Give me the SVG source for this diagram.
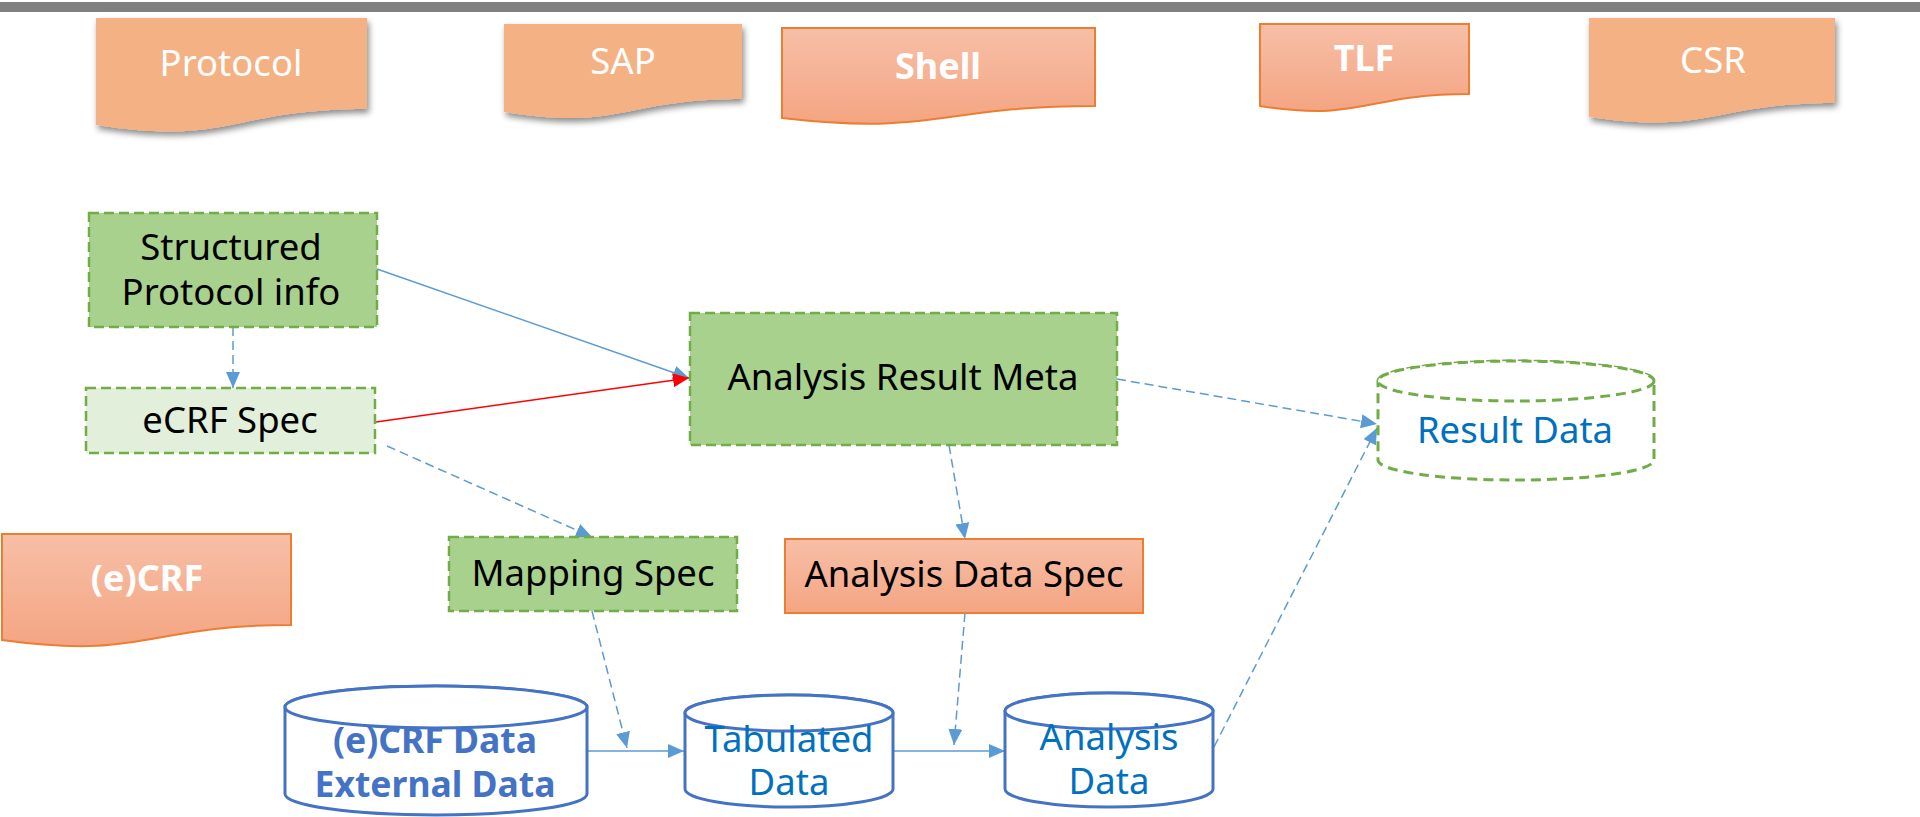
<svg xmlns="http://www.w3.org/2000/svg" width="1920" height="817" viewBox="0 0 1920 817">
<style>
text{font-family:"Noto Sans","Open Sans","DejaVu Sans",sans-serif;text-anchor:middle}
.doc{fill:#F4B183;filter:url(#sh)}
.gdoc{fill:url(#og);stroke:#ED7D31;stroke-width:2}
.wt{fill:#fff;font-size:36.5px}
.wb{fill:#fff;font-size:36px;font-weight:bold}
.gbox{fill:#A9D18E;stroke:#70AD47;stroke-width:2.5;stroke-dasharray:10 5}
.lbox{fill:#E2EFDA;stroke:#70AD47;stroke-width:2.5;stroke-dasharray:10 5}
.bt{fill:#000;font-size:36.5px}
.cyl{fill:#fff;stroke:#4472C4;stroke-width:3}
.rcyl{fill:#fff;stroke:#70AD47;stroke-width:3;stroke-dasharray:10 6}
.ct{fill:#0070C0;font-size:36.5px}
.cb{fill:#4472C4;font-size:35.5px;font-weight:bold}
.c{fill:none;stroke:#5B9BD5;stroke-width:1.5}
.d{stroke-dasharray:9 5}
</style>
<defs>
<linearGradient id="og" x1="0" y1="0" x2="0" y2="1">
<stop offset="0" stop-color="#F7BFA7"/>
<stop offset="1" stop-color="#F4A582"/>
</linearGradient>
<filter id="sh" x="-10%" y="-10%" width="130%" height="140%">
<feDropShadow dx="2" dy="4" stdDeviation="3" flood-color="#000" flood-opacity="0.45"/>
</filter>
<marker id="ab" markerUnits="userSpaceOnUse" markerWidth="18" markerHeight="14" refX="16" refY="7" orient="auto">
<path d="M0,0 L16,7 L0,14 Z" fill="#5B9BD5"/>
</marker>
<marker id="ar" markerUnits="userSpaceOnUse" markerWidth="18" markerHeight="14" refX="16" refY="7" orient="auto">
<path d="M0,0 L16,7 L0,14 Z" fill="#FF0000"/>
</marker>
</defs>
<rect x="0" y="2" width="1920" height="10" fill="#808080"/>

<g id="protocol">
<path class="doc" d="M96,18 H367 V109 C231,109 231,146 96,125 Z"/>
<text class="wt" x="231" y="76">Protocol</text>
</g>
<g id="sap">
<path class="doc" d="M504,24 H742 V99 C623,99 623,131 504,112 Z"/>
<text class="wt" x="623" y="74">SAP</text>
</g>
<g id="shell">
<path class="gdoc" d="M782,28 H1095 V106 C938,106 938,136 782,118 Z"/>
<text class="wb" x="938" y="79">Shell</text>
</g>
<g id="tlf">
<path class="gdoc" d="M1260,24 H1469 V94 C1364,94 1364,122 1260,106 Z"/>
<text class="wb" x="1364" y="71">TLF</text>
</g>
<g id="csr">
<path class="doc" d="M1589,18 H1835 V103 C1712,103 1712,135 1589,117 Z"/>
<text class="wt" x="1713" y="73">CSR</text>
</g>
<g id="ecrf">
<path class="gdoc" d="M2,534 H291 V625 C146,625 146,660 2,640 Z"/>
<text class="wb" x="147" y="591">(e)CRF</text>
</g>

<g id="connectors">
<line class="c d" x1="233" y1="327" x2="233" y2="388" marker-end="url(#ab)"/>
<line class="c" x1="377" y1="269" x2="689" y2="378" marker-end="url(#ab)"/>
<line x1="376" y1="422" x2="689" y2="378" stroke="#FF0000" stroke-width="1.5" marker-end="url(#ar)"/>
<line class="c d" x1="1117" y1="379" x2="1377" y2="424" marker-end="url(#ab)"/>
<line class="c d" x1="949" y1="445" x2="965" y2="539" marker-end="url(#ab)"/>
<line class="c d" x1="387" y1="446" x2="592" y2="537" marker-end="url(#ab)"/>
<line class="c d" x1="592" y1="611" x2="627" y2="748" marker-end="url(#ab)"/>
<line class="c" x1="587" y1="751" x2="684" y2="751" marker-end="url(#ab)"/>
<line class="c d" x1="965" y1="613" x2="954" y2="745" marker-end="url(#ab)"/>
<line class="c" x1="893" y1="751" x2="1005" y2="751" marker-end="url(#ab)"/>
<line class="c d" x1="1214" y1="747" x2="1377" y2="428" marker-end="url(#ab)"/>
</g>

<g id="structured">
<rect class="gbox" x="89" y="213" width="288" height="114"/>
<text class="bt" x="231" y="260">Structured</text>
<text class="bt" x="231" y="305">Protocol info</text>
</g>
<g id="ecrfspec">
<rect class="lbox" x="86" y="388" width="289" height="65"/>
<text class="bt" x="230" y="433">eCRF Spec</text>
</g>
<g id="arm">
<rect class="gbox" x="690" y="313" width="427" height="132"/>
<text class="bt" x="903" y="390">Analysis Result Meta</text>
</g>
<g id="mapping">
<rect class="gbox" x="449" y="537" width="288" height="74"/>
<text class="bt" x="593" y="586">Mapping Spec</text>
</g>
<g id="ads">
<rect class="gdoc" x="785" y="539" width="358" height="74"/>
<text class="bt" x="964" y="587">Analysis Data Spec</text>
</g>
<g id="resultdata">
<path class="rcyl" d="M1378,381 A138,20 0 0 1 1654,381 V460 A138,20 0 0 1 1378,460 Z"/>
<ellipse class="rcyl" cx="1516" cy="381" rx="138" ry="20"/>
<text class="ct" x="1515" y="443">Result Data</text>
</g>
<g id="ecrfdata">
<path class="cyl" d="M285,707 A151,21 0 0 1 587,707 V794 A151,21 0 0 1 285,794 Z"/>
<ellipse class="cyl" cx="436" cy="707" rx="151" ry="21"/>
<text class="cb" x="435" y="753">(e)CRF Data</text>
<text class="cb" x="435" y="797">External Data</text>
</g>
<g id="tabulated">
<path class="cyl" d="M685,713 A104,18 0 0 1 893,713 V789 A104,18 0 0 1 685,789 Z"/>
<ellipse class="cyl" cx="789" cy="713" rx="104" ry="18"/>
<text class="ct" x="789" y="752">Tabulated</text>
<text class="ct" x="789" y="795">Data</text>
</g>
<g id="analysisdata">
<path class="cyl" d="M1005,711 A104,18 0 0 1 1213,711 V789 A104,18 0 0 1 1005,789 Z"/>
<ellipse class="cyl" cx="1109" cy="711" rx="104" ry="18"/>
<text class="ct" x="1109" y="750">Analysis</text>
<text class="ct" x="1109" y="794">Data</text>
</g>
</svg>
